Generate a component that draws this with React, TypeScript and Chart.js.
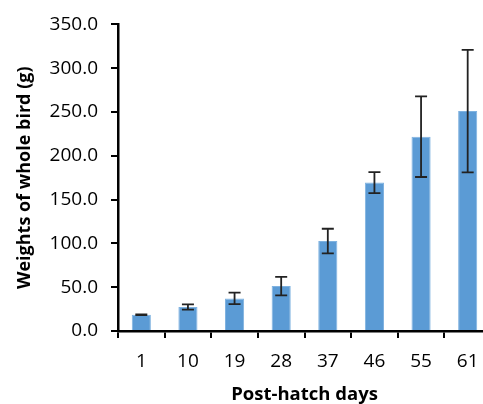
import React, { useEffect, useRef } from "react";
import { Chart, registerables } from "chart.js";

Chart.register(...registerables);

const categories = ["1", "10", "19", "28", "37", "46", "55", "61"];
const weights = [18.5, 27.5, 37.2, 51.3, 102.7, 169.4, 221.8, 251.0];
const errors = [0.4, 3.0, 6.5, 10.6, 14.0, 12.0, 46.0, 70.0];
const yTicks = [0, 50, 100, 150, 200, 250, 300, 350];

const errorBarPlugin = {
  id: "errorBars",
  afterDatasetsDraw(chart: any) {
    const { ctx } = chart;
    const meta = chart.getDatasetMeta(0);
    const yScale = chart.scales.y;
    ctx.save();
    ctx.strokeStyle = "#222";
    ctx.lineWidth = 1.8;
    meta.data.forEach((bar: any, i: number) => {
      const x = bar.x;
      const v = weights[i];
      const e = errors[i];
      const yTop = yScale.getPixelForValue(v + e);
      const yBot = yScale.getPixelForValue(v - e);
      const cap = 6;
      ctx.beginPath();
      ctx.moveTo(x, yTop);
      ctx.lineTo(x, yBot);
      ctx.moveTo(x - cap, yTop);
      ctx.lineTo(x + cap, yTop);
      ctx.moveTo(x - cap, yBot);
      ctx.lineTo(x + cap, yBot);
      ctx.stroke();
    });
    ctx.restore();
  },
};

export default function App() {
  const ref = useRef<HTMLCanvasElement | null>(null);
  useEffect(() => {
    if (!ref.current) return;
    const chart = new Chart(ref.current, {
      type: "bar",
      data: {
        labels: categories,
        datasets: [
          {
            data: weights,
            backgroundColor: "#5B9BD5",
            borderColor: "#7FB2E0",
            borderWidth: 1,
            barPercentage: 0.41,
            categoryPercentage: 1,
          },
        ],
      },
      options: {
        responsive: false,
        animation: false,
        layout: { padding: { top: 22, right: 0, left: 0, bottom: 0 } },
        plugins: { legend: { display: false }, tooltip: { enabled: false } },
        scales: {
          x: {
            grid: {
              drawOnChartArea: false,
              drawTicks: true,
              tickLength: 7,
              color: "#000",
              lineWidth: 2,
              offset: true,
            },
            border: { color: "#000", width: 2.5 },
            ticks: {
              color: "#000",
              padding: 12,
              font: { family: "Open Sans", size: 19 },
            },
            title: {
              display: true,
              text: "Post-hatch days",
              color: "#000",
              font: { family: "Open Sans", size: 18.5, weight: "bold" },
              padding: { top: 0, bottom: -2 },
            },
            afterFit(scale: any) {
              scale.height = 73;
            },
          },
          y: {
            min: 0,
            max: 350,
            afterBuildTicks(scale: any) {
              scale.ticks = yTicks.map((v) => ({ value: v }));
            },
            grid: {
              drawOnChartArea: false,
              tickLength: 7,
              color: "#000",
              lineWidth: 2,
            },
            border: { color: "#000", width: 2.5 },
            ticks: {
              color: "#000",
              padding: 13,
              font: { family: "Open Sans", size: 19 },
              callback: (v: any) => Number(v).toFixed(1),
            },
            title: {
              display: true,
              text: "Weights of whole bird (g)",
              color: "#000",
              font: { family: "Open Sans", size: 18, weight: "bold" },
              padding: { top: 14, bottom: 0 },
            },
            afterFit(scale: any) {
              scale.width = 118;
            },
          },
        },
      },
      plugins: [errorBarPlugin],
    });
    return () => chart.destroy();
  }, []);
  return (
    <div
      style={{
        position: "fixed",
        left: 0,
        top: 0,
        width: 483,
        height: 404,
        overflow: "hidden",
        background: "#fff",
      }}
    >
      <canvas ref={ref} width={491} height={404} style={{ display: "block" }} />
    </div>
  );
}
